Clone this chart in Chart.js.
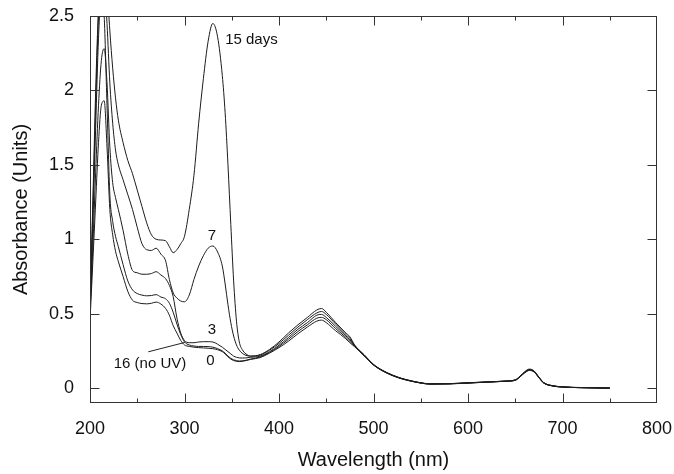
<!DOCTYPE html>
<html>
<head>
<meta charset="utf-8">
<title>Absorbance spectra</title>
<script src="https://cdn.jsdelivr.net/npm/chart.js@4.4.1/dist/chart.umd.min.js"></script>
<style>
  html, body { margin: 0; padding: 0; background: #fff; }
  #wrap { width: 674px; height: 474px; }
</style>
</head>
<body>
<div id="wrap"><canvas id="spectra" width="674" height="474"></canvas></div>
<script>
// ---------- data ----------
const wavelengths = [
  200, 203, 206, 209, 212, 215, 218, 221, 224, 227,
  230, 235, 240, 245, 250, 255, 260, 265, 270, 275,
  280, 284, 288, 292, 296, 300, 305, 310, 315, 320,
  325, 330, 335, 340, 343, 346, 349, 352, 355, 358,
  361, 365, 370, 380, 390, 400, 410, 420, 430, 440,
  445, 450, 460, 470, 475, 480, 490, 500, 510, 520,
  530, 540, 550, 560, 580, 600, 620, 640, 650, 655,
  660, 665, 670, 675, 680, 690, 700, 720, 750
];

const day15 = [
  0.55, 1.2, 1.9, 2.5, 2.85, 2.9, 2.7, 2.4, 2.15, 1.95,
  1.8, 1.65, 1.53, 1.44, 1.33, 1.22, 1.11, 1.03, 1.0, 0.995,
  0.99, 0.95, 0.91, 0.93, 0.97, 1.02, 1.2, 1.43, 1.78, 2.08,
  2.33, 2.45, 2.36, 2.1, 1.85, 1.5, 1.1, 0.72, 0.45, 0.31,
  0.26, 0.23, 0.215, 0.225, 0.26, 0.31, 0.37, 0.425, 0.475, 0.525,
  0.535, 0.51, 0.44, 0.375, 0.345, 0.29, 0.225, 0.16, 0.118, 0.088,
  0.065, 0.049, 0.036, 0.029, 0.03, 0.036, 0.042, 0.048, 0.056, 0.08,
  0.11, 0.128, 0.115, 0.075, 0.038, 0.016, 0.009, 0.004, 0.001
];

const day7 = [
  0.55, 1.25, 2.0, 2.55, 2.8, 2.75, 2.45, 2.05, 1.78, 1.6,
  1.5, 1.4, 1.3, 1.2, 1.08, 0.97, 0.93, 0.925, 0.94, 0.9,
  0.855, 0.73, 0.64, 0.605, 0.585, 0.58, 0.625, 0.73, 0.82, 0.89,
  0.94, 0.955, 0.915, 0.82, 0.7, 0.56, 0.44, 0.35, 0.29, 0.255,
  0.235, 0.22, 0.215, 0.222, 0.255, 0.3, 0.355, 0.41, 0.46, 0.505,
  0.515, 0.495, 0.43, 0.365, 0.335, 0.287, 0.223, 0.158, 0.117, 0.087,
  0.064, 0.048, 0.035, 0.028, 0.03, 0.035, 0.041, 0.047, 0.055, 0.078,
  0.108, 0.125, 0.113, 0.073, 0.037, 0.015, 0.008, 0.003, 0.0
];

const day3 = [
  0.5, 0.95, 1.45, 1.9, 2.2, 2.28, 2.05, 1.62, 1.38, 1.28,
  1.2, 1.06, 0.9, 0.79, 0.775, 0.765, 0.765, 0.77, 0.782, 0.76,
  0.735, 0.69, 0.615, 0.47, 0.37, 0.32, 0.305, 0.305, 0.31, 0.312,
  0.312, 0.31, 0.295, 0.275, 0.26, 0.245, 0.23, 0.215, 0.207, 0.203,
  0.202, 0.203, 0.207, 0.215, 0.245, 0.288, 0.34, 0.395, 0.44, 0.49,
  0.495, 0.475, 0.415, 0.355, 0.325, 0.284, 0.221, 0.157, 0.116, 0.086,
  0.064, 0.048, 0.035, 0.028, 0.029, 0.035, 0.041, 0.047, 0.054, 0.077,
  0.106, 0.123, 0.111, 0.072, 0.036, 0.015, 0.008, 0.003, 0.0
];

const day16noUV = [
  0.5, 1.1, 1.75, 2.35, 2.65, 2.5, 1.9, 1.3, 1.12, 1.02,
  0.95, 0.83, 0.72, 0.66, 0.635, 0.625, 0.62, 0.622, 0.628, 0.612,
  0.6, 0.57, 0.51, 0.43, 0.36, 0.31, 0.29, 0.283, 0.28, 0.28,
  0.279, 0.275, 0.265, 0.25, 0.235, 0.215, 0.2, 0.19, 0.185, 0.182,
  0.183, 0.187, 0.195, 0.21, 0.24, 0.28, 0.328, 0.38, 0.425, 0.47,
  0.475, 0.46, 0.4, 0.345, 0.315, 0.281, 0.219, 0.156, 0.115, 0.085,
  0.063, 0.047, 0.034, 0.027, 0.029, 0.034, 0.04, 0.046, 0.053, 0.076,
  0.104, 0.121, 0.109, 0.071, 0.035, 0.014, 0.007, 0.003, 0.0
];

const day0 = [
  0.45, 0.85, 1.25, 1.65, 1.9, 1.93, 1.62, 1.2, 1.03, 0.92,
  0.85, 0.75, 0.65, 0.59, 0.575, 0.568, 0.566, 0.57, 0.578, 0.565,
  0.535, 0.49, 0.42, 0.37, 0.32, 0.29, 0.28, 0.275, 0.272, 0.27,
  0.268, 0.265, 0.258, 0.245, 0.23, 0.21, 0.195, 0.185, 0.18, 0.178,
  0.18, 0.185, 0.193, 0.205, 0.235, 0.272, 0.315, 0.365, 0.41, 0.45,
  0.457, 0.44, 0.385, 0.335, 0.305, 0.278, 0.217, 0.155, 0.114, 0.084,
  0.062, 0.046, 0.034, 0.027, 0.028, 0.034, 0.04, 0.046, 0.052, 0.075,
  0.102, 0.119, 0.108, 0.07, 0.034, 0.014, 0.007, 0.003, 0.0
];

const seriesNames = ['15 days', '7', '3', '16 (no UV)', '0'];
const seriesValues = [day15, day7, day3, day16noUV, day0];

// axis ticks
const xTickLabels = [200, 300, 400, 500, 600, 700, 800];
const xMinorTicks = [250, 350, 450, 550, 650, 750];
const yTickLabels = [0, 0.5, 1, 1.5, 2, 2.5];

// curve labels, placed in data units (nm, absorbance)
const curveLabels = [
  { text: '15 days', x: 343, y: 2.34, align: 'left' },
  { text: '7', x: 329, y: 1.02, align: 'center' },
  { text: '3', x: 329, y: 0.39, align: 'center' },
  { text: '0', x: 327.5, y: 0.18, align: 'center' },
  { text: '16 (no UV)', x: 263.5, y: 0.16, align: 'center' }
];
const leaderFrom = [261.7, 0.244];
const leaderTo = [300.5, 0.307];

const FONT = '"Liberation Sans", Arial, sans-serif';

// ===============================================
// Frame, inward ticks and curve labels
// ===============================================
const frameAndLabels = {
  id: 'frameAndLabels',
  afterDatasetsDraw(chart) {
    const { ctx, chartArea: a, scales: { x, y } } = chart;
    const L = Math.round(a.left) + 0.5;
    const R = Math.round(a.right) - 0.5;
    const T = Math.round(a.top) + 0.5;
    const B = Math.round(a.bottom) - 0.5;

    ctx.save();
    ctx.strokeStyle = '#333';
    ctx.lineWidth = 1;
    ctx.strokeRect(L, T, R - L, B - T);

    ctx.beginPath();
    const xTick = (v, len) => {
      const px = Math.round(x.getPixelForValue(v)) + 0.5;
      ctx.moveTo(px, B); ctx.lineTo(px, B - len);
      ctx.moveTo(px, T); ctx.lineTo(px, T + len);
    };
    xTickLabels.slice(1, -1).forEach(v => xTick(v, 9));
    xMinorTicks.forEach(v => xTick(v, 4));
    yTickLabels.slice(0, -1).forEach(v => {
      const py = Math.round(y.getPixelForValue(v)) + 0.5;
      ctx.moveTo(L, py); ctx.lineTo(L + 9, py);
      ctx.moveTo(R, py); ctx.lineTo(R - 9, py);
    });
    ctx.stroke();

    // leader line for "16 (no UV)"
    ctx.strokeStyle = '#222';
    ctx.beginPath();
    ctx.moveTo(x.getPixelForValue(leaderFrom[0]), y.getPixelForValue(leaderFrom[1]));
    ctx.lineTo(x.getPixelForValue(leaderTo[0]), y.getPixelForValue(leaderTo[1]));
    ctx.stroke();

    ctx.fillStyle = '#111';
    ctx.font = '15px ' + FONT;
    ctx.textBaseline = 'middle';
    curveLabels.forEach(l => {
      ctx.textAlign = l.align;
      ctx.fillText(l.text, x.getPixelForValue(l.x), y.getPixelForValue(l.y));
    });
    ctx.restore();
  }
};

const datasets = seriesValues.map((vals, i) => ({
  label: seriesNames[i],
  data: wavelengths.map((w, j) => ({ x: w, y: vals[j] })),
  borderColor: '#1c1c1c',
  borderWidth: 1,
  pointRadius: 0,
  fill: false,
  cubicInterpolationMode: 'monotone'
}));

new Chart(document.getElementById('spectra'), {
  type: 'line',
  data: { datasets },
  options: {
    responsive: false,
    animation: false,
    devicePixelRatio: 1,
    layout: { padding: { top: 16, right: 17, left: 0, bottom: 0 } },
    plugins: { legend: { display: false }, tooltip: { enabled: false } },
    scales: {
      x: {
        type: 'linear',
        min: 200,
        max: 800,
        afterBuildTicks: s => { s.ticks = xTickLabels.map(v => ({ value: v })); },
        afterFit: s => {
          s.height = 71;
          s.paddingLeft = 0;
          s.paddingRight = 0;
        },
        grid: { display: false, drawTicks: false },
        border: { display: false },
        ticks: {
          color: '#111',
          padding: 15,
          maxRotation: 0,
          callback: v => String(v),
          font: { family: FONT, size: 18 }
        },
        title: {
          display: true,
          text: 'Wavelength (nm)',
          color: '#111',
          padding: { top: 0, bottom: 2 },
          font: { family: FONT, size: 20 }
        }
      },
      y: {
        type: 'linear',
        min: -0.1,
        max: 2.5,
        afterBuildTicks: s => { s.ticks = yTickLabels.map(v => ({ value: v })); },
        afterFit: s => {
          s.width = 90;
          s.paddingTop = 0;
          s.paddingBottom = 0;
        },
        grid: { display: false, drawTicks: false },
        border: { display: false },
        ticks: {
          color: '#111',
          padding: 16,
          callback: v => String(v),
          font: { family: FONT, size: 18 }
        },
        title: {
          display: true,
          text: 'Absorbance (Units)',
          color: '#111',
          padding: { top: 9, bottom: 0 },
          font: { family: FONT, size: 20 }
        }
      }
    }
  },
  plugins: [frameAndLabels]
});
</script>
</body>
</html>
